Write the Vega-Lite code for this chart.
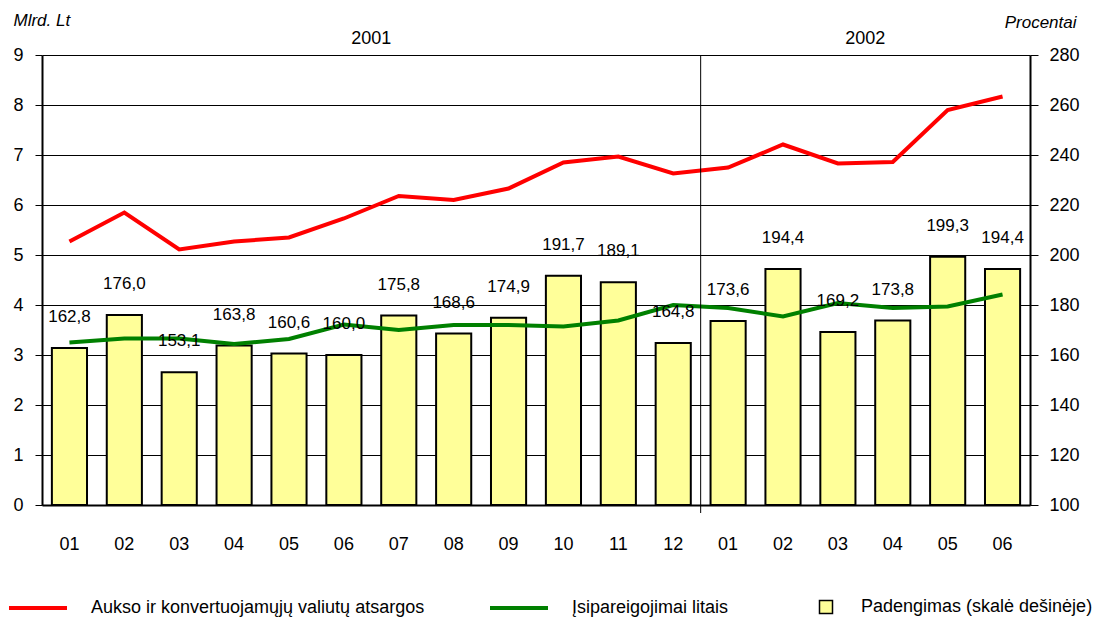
{
  "$schema": "https://vega.github.io/schema/vega-lite/v6.json",
  "width": 988,
  "height": 450,
  "autosize": "none",
  "padding": {"left": 42, "top": 55, "right": 71, "bottom": 116},
  "background": "white",
  "config": {
    "font": "Liberation Sans",
    "view": {"stroke": null},
    "locale": {"number": {"decimal": ",", "thousands": ".", "grouping": [3], "currency": ["", ""]}},
    "axis": {"labelColor": "black", "titleColor": "black", "labelFont": "Liberation Sans", "titleFont": "Liberation Sans"},
    "legend": {"labelFont": "Liberation Sans", "labelColor": "black"}
  },
  "data": {
    "values": [
      {"m": "2001-01", "rez": 5.27, "isip": 3.25, "pad": 162.8},
      {"m": "2001-02", "rez": 5.85, "isip": 3.33, "pad": 176.0},
      {"m": "2001-03", "rez": 5.11, "isip": 3.33, "pad": 153.1},
      {"m": "2001-04", "rez": 5.27, "isip": 3.22, "pad": 163.8},
      {"m": "2001-05", "rez": 5.35, "isip": 3.32, "pad": 160.6},
      {"m": "2001-06", "rez": 5.73, "isip": 3.61, "pad": 160.0},
      {"m": "2001-07", "rez": 6.18, "isip": 3.50, "pad": 175.8},
      {"m": "2001-08", "rez": 6.10, "isip": 3.60, "pad": 168.6},
      {"m": "2001-09", "rez": 6.33, "isip": 3.60, "pad": 174.9},
      {"m": "2001-10", "rez": 6.85, "isip": 3.57, "pad": 191.7},
      {"m": "2001-11", "rez": 6.97, "isip": 3.69, "pad": 189.1},
      {"m": "2001-12", "rez": 6.63, "isip": 4.00, "pad": 164.8},
      {"m": "2002-01", "rez": 6.75, "isip": 3.94, "pad": 173.6},
      {"m": "2002-02", "rez": 7.21, "isip": 3.77, "pad": 194.4},
      {"m": "2002-03", "rez": 6.83, "isip": 4.04, "pad": 169.2},
      {"m": "2002-04", "rez": 6.86, "isip": 3.94, "pad": 173.8},
      {"m": "2002-05", "rez": 7.90, "isip": 3.97, "pad": 199.3},
      {"m": "2002-06", "rez": 8.17, "isip": 4.21, "pad": 194.4}
    ]
  },
  "layer": [
    {
      "mark": {"type": "bar", "width": {"band": 0.64}, "fill": "#FFFF99", "stroke": "black", "strokeWidth": 2},
      "encoding": {
        "x": {
          "field": "m", "type": "nominal",
          "scale": {"paddingInner": 0, "paddingOuter": 0},
          "axis": {"title": null, "orient": "bottom", "labelExpr": "slice(datum.value, 5)", "labelAngle": 0, "labelFontSize": 18, "labelPadding": 30, "ticks": false, "domainColor": "black", "domainWidth": 2, "grid": false}
        },
        "y": {
          "field": "pad", "type": "quantitative",
          "scale": {"domain": [100, 280], "zero": false, "nice": false},
          "axis": {"orient": "right", "values": [100, 120, 140, 160, 180, 200, 220, 240, 260, 280], "grid": false, "title": "Procentai", "titleFontStyle": "italic", "titleFontWeight": "normal", "titleFontSize": 17, "titleAngle": 0, "titleAlign": "right", "titleBaseline": "alphabetic", "titleX": 46, "titleY": -28, "labelFontSize": 18, "labelPadding": 11, "tickSize": 8, "tickColor": "black", "domainColor": "black", "domainWidth": 2}
        },
        "y2": {"datum": 100},
        "fill": {
          "datum": "Padengimas (skalė dešinėje)",
          "scale": {"range": ["#FFFF99"]},
          "legend": {"title": null, "orient": "none", "legendX": 775, "legendY": 543, "symbolType": "square", "symbolSize": 169, "symbolStrokeColor": "black", "symbolStrokeWidth": 1.5, "labelFontSize": 18, "labelOffset": 26, "labelLimit": 400, "padding": 0}
        }
      }
    },
    {
      "layer": [
        {
          "mark": {"type": "line", "strokeWidth": 4},
          "encoding": {
            "x": {"field": "m", "type": "nominal"},
            "y": {
              "field": "rez", "type": "quantitative",
              "scale": {"domain": [0, 9], "nice": false},
              "axis": {"orient": "left", "values": [0, 1, 2, 3, 4, 5, 6, 7, 8, 9], "grid": true, "gridColor": "black", "gridOpacity": 1, "gridWidth": 1, "title": "Mlrd. Lt", "titleFontStyle": "italic", "titleFontWeight": "normal", "titleFontSize": 17, "titleAngle": 0, "titleAlign": "left", "titleBaseline": "alphabetic", "titleX": -29, "titleY": -30, "labelFontSize": 18, "labelPadding": 12, "tickSize": 7, "tickColor": "black", "domainColor": "black", "domainWidth": 2}
            },
            "stroke": {
              "datum": "Aukso ir konvertuojamųjų valiutų atsargos",
              "scale": {"domain": ["Aukso ir konvertuojamųjų valiutų atsargos", "Įsipareigojimai litais"], "range": ["#FF0000", "#008000"]},
              "legend": {"title": null, "orient": "none", "legendX": -35, "legendY": 522, "direction": "horizontal", "symbolType": "stroke", "symbolSize": 3364, "symbolStrokeWidth": 4, "labelFontSize": 18, "labelOffset": 22, "labelLimit": 500, "columnPadding": 57, "padding": 0}
            }
          }
        },
        {
          "mark": {"type": "line", "strokeWidth": 4},
          "encoding": {
            "x": {"field": "m", "type": "nominal"},
            "y": {"field": "isip", "type": "quantitative"},
            "stroke": {"datum": "Įsipareigojimai litais"}
          }
        },
        {
          "data": {"values": [{"m": "2001-12"}]},
          "mark": {"type": "rule", "color": "black", "strokeWidth": 1},
          "encoding": {
            "x": {"field": "m", "type": "nominal", "bandPosition": 1},
            "y": {"datum": 9},
            "y2": {"datum": -0.16}
          }
        },
        {
          "data": {"values": [{"m": "2001-06", "year": "2001"}, {"m": "2002-03", "year": "2002"}]},
          "mark": {"type": "text", "fontSize": 18, "baseline": "alphabetic", "dy": -11, "color": "black"},
          "encoding": {
            "x": {"field": "m", "type": "nominal", "bandPosition": 1},
            "y": {"datum": 9},
            "text": {"field": "year"}
          }
        }
      ]
    },
    {
      "mark": {"type": "text", "fontSize": 17, "baseline": "middle", "dy": -31, "color": "black"},
      "encoding": {
        "x": {"field": "m", "type": "nominal"},
        "y": {"field": "pad", "type": "quantitative", "scale": {"domain": [100, 280], "zero": false, "nice": false}, "axis": null},
        "text": {"field": "pad", "type": "quantitative", "format": ".1f"}
      }
    }
  ],
  "resolve": {"scale": {"y": "independent"}}
}
